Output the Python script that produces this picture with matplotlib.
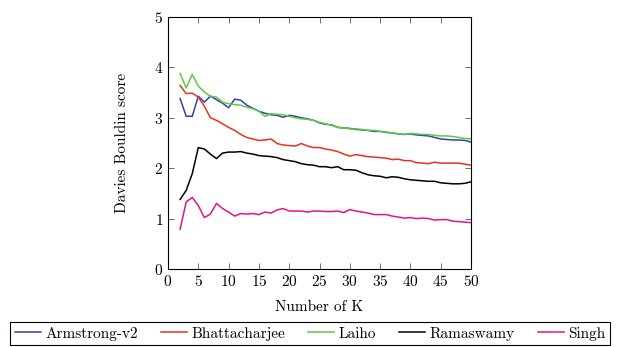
import matplotlib
matplotlib.use("Agg")
import matplotlib.pyplot as plt
import numpy as np

k = list(range(2, 51))

armstrong = [3.38, 3.03, 3.03, 3.43, 3.31, 3.43, 3.36, 3.29, 3.20, 3.37,
             3.35, 3.25, 3.19, 3.13, 3.09, 3.06, 3.05, 3.01, 3.05, 3.03,
             3.00, 2.98, 2.95, 2.90, 2.87, 2.86, 2.81, 2.80, 2.79, 2.77,
             2.76, 2.75, 2.73, 2.73, 2.71, 2.70, 2.68, 2.67, 2.68, 2.66,
             2.65, 2.64, 2.61, 2.58, 2.57, 2.56, 2.56, 2.55, 2.52]
bhattacharjee = [3.64, 3.48, 3.49, 3.41, 3.23, 3.00, 2.95, 2.88, 2.81, 2.75,
                 2.67, 2.61, 2.58, 2.55, 2.56, 2.58, 2.49, 2.46, 2.45, 2.44,
                 2.49, 2.44, 2.41, 2.41, 2.38, 2.36, 2.33, 2.28, 2.24, 2.27,
                 2.25, 2.23, 2.22, 2.21, 2.20, 2.17, 2.18, 2.15, 2.15, 2.11,
                 2.10, 2.09, 2.12, 2.10, 2.10, 2.10, 2.10, 2.08, 2.06]
laiho = [3.88, 3.59, 3.86, 3.63, 3.51, 3.43, 3.41, 3.31, 3.28, 3.26,
         3.25, 3.21, 3.18, 3.13, 3.03, 3.08, 3.07, 3.06, 3.03, 3.00,
         2.98, 2.97, 2.95, 2.91, 2.88, 2.85, 2.81, 2.80, 2.78, 2.78,
         2.77, 2.75, 2.75, 2.73, 2.72, 2.70, 2.68, 2.67, 2.69, 2.68,
         2.67, 2.67, 2.65, 2.64, 2.64, 2.63, 2.61, 2.59, 2.58]
ramaswamy = [1.38, 1.56, 1.89, 2.41, 2.38, 2.28, 2.19, 2.30, 2.32, 2.32,
             2.33, 2.30, 2.28, 2.25, 2.24, 2.23, 2.21, 2.17, 2.15, 2.13,
             2.09, 2.07, 2.06, 2.03, 2.03, 2.01, 2.03, 1.97, 1.97, 1.96,
             1.91, 1.87, 1.85, 1.84, 1.81, 1.83, 1.82, 1.79, 1.77, 1.76,
             1.75, 1.74, 1.74, 1.71, 1.70, 1.69, 1.69, 1.70, 1.73]
singh = [0.79, 1.33, 1.42, 1.26, 1.02, 1.09, 1.30, 1.20, 1.13, 1.05,
         1.10, 1.09, 1.10, 1.08, 1.13, 1.11, 1.17, 1.20, 1.15, 1.15,
         1.15, 1.13, 1.15, 1.15, 1.14, 1.14, 1.15, 1.12, 1.18, 1.15,
         1.13, 1.11, 1.08, 1.08, 1.08, 1.05, 1.03, 1.01, 1.02, 1.00,
         1.01, 1.00, 0.97, 0.98, 0.98, 0.95, 0.94, 0.93, 0.92]

series = [
    ("Armstrong-v2", armstrong, "#3340b0"),
    ("Bhattacharjee", bhattacharjee, "#e8321e"),
    ("Laiho", laiho, "#5ccc3c"),
    ("Ramaswamy", ramaswamy, "#000000"),
    ("Singh", singh, "#e8108c"),
]

plt.rcParams['font.family'] = ['cmr10', 'DejaVu Serif']
plt.rcParams['axes.formatter.use_mathtext'] = True
plt.rcParams['mathtext.fontset'] = 'cm'

W, H = 625, 347
fig = plt.figure(figsize=(W / 100, H / 100), dpi=100)
ax = fig.add_axes([168 / W, 1 - 269 / H, (471 - 168) / W, (269 - 17) / H])

for name, vals, col in series:
    ax.plot(k, vals, color=col, lw=1.1, label=name)

ax.set_xlim(0, 50)
ax.set_ylim(0, 5)
ax.set_xticks(range(0, 51, 5))
ax.set_yticks(range(0, 6))
ax.tick_params(direction='in', top=True, right=True, length=4, width=0.6,
               labelsize=11, color='#555555')
for s in ax.spines.values():
    s.set_linewidth(0.8)
ax.set_xlabel("Number of K", fontsize=11, labelpad=8)
ax.set_ylabel("Davies Bouldin score", fontsize=11, labelpad=18)

leg = fig.legend(loc='upper left', bbox_to_anchor=(10 / W, 1 - 322 / H),
                 ncol=5, fontsize=11, frameon=True, fancybox=False,
                 edgecolor='black', framealpha=1, handlelength=1.7,
                 handletextpad=0.3, columnspacing=1.5, borderpad=0.3,
                 borderaxespad=0)
leg.get_frame().set_linewidth(0.8)

fig.savefig("out.png", dpi=100)
